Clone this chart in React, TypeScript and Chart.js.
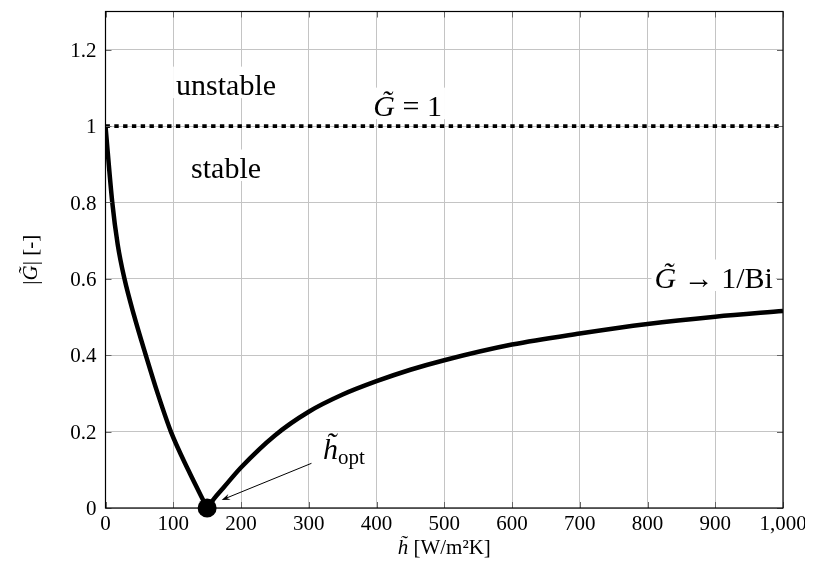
import React, { useEffect, useRef } from "react";
import { Chart, registerables } from "chart.js";

Chart.register(...registerables);

// ---- data ----
const X_TICKS = [0, 100, 200, 300, 400, 500, 600, 700, 800, 900, 1000];
const X_TICK_LABELS = ["0", "100", "200", "300", "400", "500", "600", "700", "800", "900", "1,000"];
const Y_TICKS = [0, 0.2, 0.4, 0.6, 0.8, 1.0, 1.2];
const Y_TICK_LABELS = ["0", "0.2", "0.4", "0.6", "0.8", "1", "1.2"];

// left branch of |G~| (h~ below the optimum)
const LEFT_H = [0, 10, 18, 28, 42, 59.5, 77, 96.5, 122, 150];
const LEFT_G = [1.0, 0.8, 0.69, 0.6, 0.505, 0.4, 0.3, 0.2, 0.1, 0];

// right branch of |G~| (h~ above the optimum)
const RIGHT_H = [150, 160, 175, 200, 250, 300, 350, 400, 450, 500, 600, 700, 800, 900, 1000];
const RIGHT_G = [0, 0.024, 0.055, 0.106, 0.19, 0.252, 0.297, 0.332, 0.362, 0.387, 0.428, 0.457, 0.482, 0.501, 0.516];

// stability limit G~ = 1
const LIMIT_H = [0, 1000];
const LIMIT_G = [1, 1];

// optimum point
const OPT_H = [150];
const OPT_G = [0];

const SERIF = '"Liberation Serif", "Times New Roman", serif';

const AREA = { left: 97.5, top: 3.5, right: 775, bottom: 500 };

type Run = { t: string; size: number; italic?: boolean; dy?: number };

function fontOf(r: Run) {
  return `${r.italic ? "italic " : ""}${r.size}px ${SERIF}`;
}

function drawRuns(
  ctx: CanvasRenderingContext2D,
  x: number,
  y: number,
  runs: Run[],
  align: "left" | "center" | "right",
  bg: boolean
) {
  let total = 0;
  const widths: number[] = [];
  let maxSize = 0;
  for (const r of runs) {
    ctx.font = fontOf(r);
    const w = ctx.measureText(r.t).width;
    widths.push(w);
    total += w;
    maxSize = Math.max(maxSize, r.size);
  }
  let x0 = x;
  if (align === "center") x0 = x - total / 2;
  else if (align === "right") x0 = x - total;
  if (bg) {
    const pad = 3;
    const top = y - maxSize * 0.85 - pad;
    const bottom = y + 3;
    ctx.fillStyle = "#fff";
    ctx.fillRect(x0 - pad, top, total + 2 * pad, bottom - top);
  }
  ctx.fillStyle = "#000";
  ctx.textBaseline = "alphabetic";
  ctx.textAlign = "left";
  let cx = x0;
  runs.forEach((r, i) => {
    ctx.font = fontOf(r);
    ctx.fillText(r.t, cx, y + (r.dy || 0));
    cx += widths[i];
  });
}

const NOTES: { h: number; g: number; align: "left" | "center" | "right"; bg: boolean; runs: Run[] }[] = [
  { h: 178, g: 1.081, align: "center", bg: true, runs: [{ t: "unstable", size: 30 }] },
  { h: 178, g: 0.864, align: "center", bg: true, runs: [{ t: "stable", size: 30 }] },
  {
    h: 446,
    g: 1.026,
    align: "center",
    bg: true,
    runs: [
      { t: "G\u0303", size: 30, italic: true },
      { t: " = 1", size: 30 },
    ],
  },
  {
    h: 985,
    g: 0.576,
    align: "right",
    bg: true,
    runs: [
      { t: "G\u0303", size: 30, italic: true },
      { t: " \u2192 1/Bi", size: 30 },
    ],
  },
  {
    h: 321,
    g: 0.128,
    align: "left",
    bg: false,
    runs: [
      { t: "h\u0303", size: 30, italic: true },
      { t: "opt", size: 21, dy: 5 },
    ],
  },
];

const ARROW = { fromH: 304, fromG: 0.117, toH: 171.5, toG: 0.021 };

const overlayPlugin = {
  id: "overlay",
  afterDatasetsDraw(chart: any) {
    const ctx: CanvasRenderingContext2D = chart.ctx;
    const xs = chart.scales.x;
    const ys = chart.scales.y;
    ctx.save();
    for (const n of NOTES) {
      drawRuns(ctx, xs.getPixelForValue(n.h), ys.getPixelForValue(n.g), n.runs, n.align, n.bg);
    }
    const x1 = xs.getPixelForValue(ARROW.fromH);
    const y1 = ys.getPixelForValue(ARROW.fromG);
    const x2 = xs.getPixelForValue(ARROW.toH);
    const y2 = ys.getPixelForValue(ARROW.toG);
    const ang = Math.atan2(y2 - y1, x2 - x1);
    const hl = 9;
    ctx.strokeStyle = "#000";
    ctx.lineWidth = 1;
    ctx.beginPath();
    ctx.moveTo(x1, y1);
    ctx.lineTo(x2 - Math.cos(ang) * 4, y2 - Math.sin(ang) * 4);
    ctx.stroke();
    ctx.fillStyle = "#000";
    ctx.beginPath();
    ctx.moveTo(x2, y2);
    ctx.lineTo(x2 - hl * Math.cos(ang - 0.35), y2 - hl * Math.sin(ang - 0.35));
    ctx.lineTo(x2 - hl * 0.6 * Math.cos(ang), y2 - hl * 0.6 * Math.sin(ang));
    ctx.lineTo(x2 - hl * Math.cos(ang + 0.35), y2 - hl * Math.sin(ang + 0.35));
    ctx.closePath();
    ctx.fill();
    ctx.restore();
  },
  afterDraw(chart: any) {
    const ctx: CanvasRenderingContext2D = chart.ctx;
    const a = chart.chartArea;
    const xs = chart.scales.x;
    const ys = chart.scales.y;
    ctx.save();
    // inner tick marks
    ctx.strokeStyle = "#666";
    ctx.lineWidth = 1;
    const tl = 6;
    ctx.beginPath();
    for (const v of X_TICKS) {
      const px = Math.round(xs.getPixelForValue(v)) + 0.5;
      ctx.moveTo(px, a.bottom);
      ctx.lineTo(px, a.bottom - tl);
      ctx.moveTo(px, a.top);
      ctx.lineTo(px, a.top + tl);
    }
    for (const v of Y_TICKS) {
      const py = Math.round(ys.getPixelForValue(v)) + 0.5;
      ctx.moveTo(a.left, py);
      ctx.lineTo(a.left + tl, py);
      ctx.moveTo(a.right, py);
      ctx.lineTo(a.right - tl, py);
    }
    ctx.stroke();
    // frame
    ctx.strokeStyle = "#000";
    ctx.lineWidth = 1.2;
    ctx.strokeRect(a.left, a.top, a.right - a.left, a.bottom - a.top);

    // tick labels
    ctx.fillStyle = "#000";
    ctx.font = `21px ${SERIF}`;
    ctx.textBaseline = "alphabetic";
    ctx.textAlign = "center";
    X_TICKS.forEach((v, i) => {
      ctx.fillText(X_TICK_LABELS[i], xs.getPixelForValue(v), a.bottom + 21.5);
    });
    ctx.textAlign = "right";
    Y_TICKS.forEach((v, i) => {
      ctx.fillText(Y_TICK_LABELS[i], a.left - 9, ys.getPixelForValue(v) + 7.2);
    });

    // axis titles
    drawRuns(
      ctx,
      (a.left + a.right) / 2,
      a.bottom + 46,
      [
        { t: "h\u0303", size: 21, italic: true },
        { t: " [W/m\u00B2K]", size: 21 },
      ],
      "center",
      false
    );
    ctx.save();
    ctx.translate(a.left - 68.5, (a.top + a.bottom) / 2);
    ctx.rotate(-Math.PI / 2);
    drawRuns(
      ctx,
      0,
      0,
      [
        { t: "|", size: 21 },
        { t: "G\u0303", size: 21, italic: true },
        { t: "| [-]", size: 21 },
      ],
      "center",
      false
    );
    ctx.restore();
    ctx.restore();
  },
};

export default function App() {
  const ref = useRef<HTMLCanvasElement | null>(null);

  useEffect(() => {
    if (!ref.current) return;
    const dims = { padTop: AREA.top, padRight: 797 - AREA.right, yW: AREA.left, xH: 565 - AREA.bottom };
    const toPts = (xs: number[], ys: number[]) => xs.map((x, i) => ({ x, y: ys[i] }));
    const chart = new Chart(ref.current, {
      type: "line",
      data: {
        datasets: [
          {
            data: toPts(LIMIT_H, LIMIT_G),
            borderColor: "#000",
            borderWidth: 3.8,
            borderDash: [4.4, 4.4],
            borderCapStyle: "butt",
            pointRadius: 0,
            fill: false,
          },
          {
            data: toPts(LEFT_H, LEFT_G),
            borderColor: "#000",
            borderWidth: 4.5,
            pointRadius: 0,
            cubicInterpolationMode: "monotone",
            fill: false,
          },
          {
            data: toPts(RIGHT_H, RIGHT_G),
            borderColor: "#000",
            borderWidth: 4.5,
            pointRadius: 0,
            cubicInterpolationMode: "monotone",
            fill: false,
          },
          {
            data: toPts(OPT_H, OPT_G),
            showLine: false,
            pointRadius: 9.5,
            pointBackgroundColor: "#000",
            pointBorderWidth: 0,
            pointBorderColor: "#000",
            clip: false,
          } as any,
        ],
      },
      options: {
        animation: false,
        responsive: true,
        maintainAspectRatio: false,
        events: [],
        layout: {
          autoPadding: false,
          padding: { left: 0, right: dims.padRight, top: dims.padTop, bottom: 0 },
        },
        plugins: {
          legend: { display: false },
          tooltip: { enabled: false },
        },
        scales: {
          x: {
            type: "linear",
            min: 0,
            max: 1000,
            afterBuildTicks: (s: any) => {
              s.ticks = X_TICKS.map((v) => ({ value: v }));
            },
            afterFit: (s: any) => {
              s.height = dims.xH;
              s.paddingLeft = 0;
              s.paddingRight = 0;
              s.paddingTop = 0;
              s.paddingBottom = 0;
            },
            ticks: { display: false },
            grid: { color: "#c4c4c4", lineWidth: 1, drawTicks: false },
            border: { display: false },
          },
          y: {
            type: "linear",
            min: 0,
            max: 1.3,
            afterBuildTicks: (s: any) => {
              s.ticks = Y_TICKS.map((v) => ({ value: v }));
            },
            afterFit: (s: any) => {
              s.width = dims.yW;
              s.paddingLeft = 0;
              s.paddingRight = 0;
              s.paddingTop = 0;
              s.paddingBottom = 0;
            },
            ticks: { display: false },
            grid: { color: "#c4c4c4", lineWidth: 1, drawTicks: false },
            border: { display: false },
          },
        },
      },
      plugins: [overlayPlugin],
    } as any);

    // nudge the layout so the plot area lands on the target box
    for (let k = 0; k < 5; k++) {
      const a = chart.chartArea;
      if (!a) break;
      const dt = AREA.top - a.top;
      const db = a.bottom - AREA.bottom;
      const dl = AREA.left - a.left;
      const dr = a.right - AREA.right;
      if (Math.abs(dt) < 0.05 && Math.abs(db) < 0.05 && Math.abs(dl) < 0.05 && Math.abs(dr) < 0.05) break;
      dims.padTop += dt;
      dims.xH += db;
      dims.yW += dl;
      dims.padRight += dr;
      (chart.options as any).layout.padding = { left: 0, right: dims.padRight, top: dims.padTop, bottom: 0 };
      chart.update();
    }
    return () => chart.destroy();
  }, []);

  return (
    <div style={{ width: 797, height: 565, position: "relative" }}>
      <canvas ref={ref} />
    </div>
  );
}
